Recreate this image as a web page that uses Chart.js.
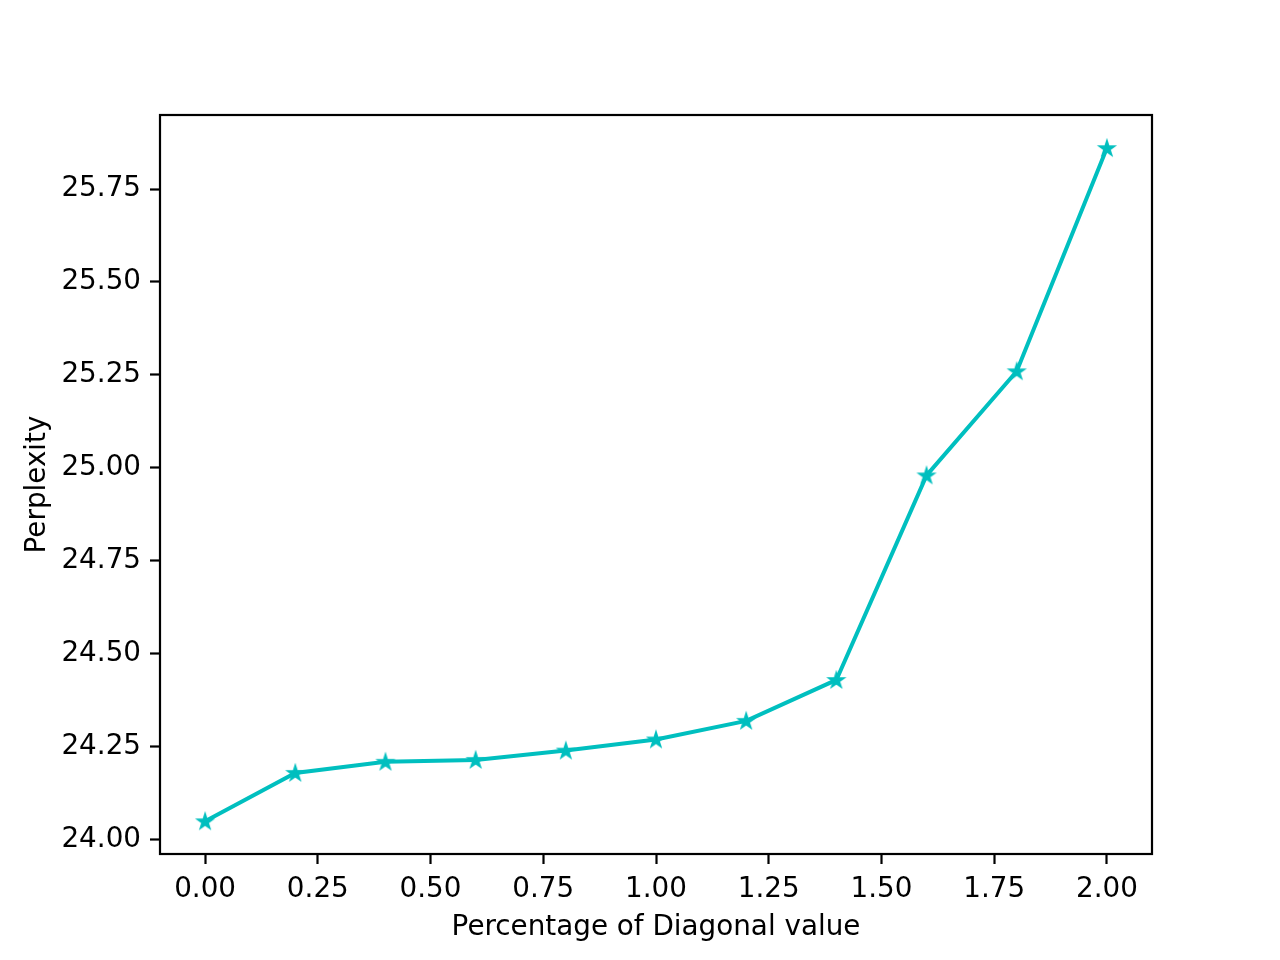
<!DOCTYPE html>
<html>
<head>
<meta charset="utf-8">
<script src="https://cdn.jsdelivr.net/npm/chart.js@4/dist/chart.umd.min.js"></script>
<style>
  body { margin: 0; background: #fff; }
  canvas { display: block; }
</style>
</head>
<body>
<canvas id="myChart" width="1280" height="960"></canvas>
<script>
// data
const diagPct = [0, 0.2, 0.4, 0.6, 0.8, 1.0, 1.2, 1.4, 1.6, 1.8, 2.0];
const perplexity = [24.05, 24.18, 24.21, 24.215, 24.24, 24.27, 24.32, 24.43, 24.98, 25.26, 25.86];
const xTicks = [0, 0.25, 0.5, 0.75, 1.0, 1.25, 1.5, 1.75, 2.0];
const yTicks = [24.0, 24.25, 24.5, 24.75, 25.0, 25.25, 25.5, 25.75];

const lineColor = "#00bfbf";

// filled star marker like matplotlib '*'
function makeStar(color) {
    const c = document.createElement("canvas");
    c.width = 24; c.height = 24;
    const g = c.getContext("2d");
    const R = 7.4, r = R * 0.381966;
    g.beginPath();
    for (let i = 0; i < 10; i++) {
        const rad = i % 2 === 0 ? R : r;
        const a = -Math.PI / 2 + i * Math.PI / 5;
        const px = 12 + rad * Math.cos(a), py = 12.5 + rad * Math.sin(a);
        if (i === 0) g.moveTo(px, py); else g.lineTo(px, py);
    }
    g.closePath();
    g.fillStyle = color;
    g.fill();
    g.lineWidth = 2;
    g.lineJoin = "miter";
    g.strokeStyle = color;
    g.stroke();
    return c;
}

const frame = {
    id: "frame",
    afterDraw(chart) {
        const a = chart.chartArea, ctx = chart.ctx;
        ctx.save();
        ctx.strokeStyle = "#000";
        ctx.lineWidth = 2.2;
        ctx.strokeRect(a.left, a.top, a.right - a.left, a.bottom - a.top);
        ctx.restore();
    }
};

Chart.defaults.font.family = "'DejaVu Sans', sans-serif";
Chart.defaults.color = "#000";

const star = makeStar(lineColor);

new Chart(document.getElementById("myChart"), {
    type: "line",
    data: {
        datasets: [{
            data: diagPct.map((x, i) => ({ x: x, y: perplexity[i] })),
            borderColor: lineColor,
            backgroundColor: lineColor,
            borderWidth: 4,
            pointStyle: star,
            pointRadius: 8,
            fill: false,
            tension: 0
        }]
    },
    options: {
        responsive: false,
        animation: false,
        layout: { padding: { top: 115, right: 128, left: 0, bottom: 0 } },
        plugins: { legend: { display: false }, tooltip: { enabled: false } },
        scales: {
            x: {
                type: "linear",
                min: -0.1,
                max: 2.1,
                afterBuildTicks: s => { s.ticks = xTicks.map(v => ({ value: v })); },
                afterFit: s => { s.height = 106; },
                border: { display: false },
                grid: { drawOnChartArea: false, tickLength: 10, tickWidth: 2.2, tickColor: "#000" },
                ticks: {
                    font: { size: 27.8 },
                    padding: 9,
                    maxRotation: 0,
                    callback: v => v.toFixed(2)
                },
                title: {
                    display: true,
                    text: "Percentage of Diagonal value",
                    font: { size: 27.8 },
                    padding: { top: 0, bottom: 16 }
                }
            },
            y: {
                type: "linear",
                min: 23.962,
                max: 25.949,
                afterBuildTicks: s => { s.ticks = yTicks.map(v => ({ value: v })); },
                afterFit: s => { s.width = 160; },
                border: { display: false },
                grid: { drawOnChartArea: false, tickLength: 10, tickWidth: 2.2, tickColor: "#000" },
                ticks: {
                    font: { size: 27.8 },
                    padding: 9,
                    callback: v => v.toFixed(2)
                },
                title: {
                    display: true,
                    text: "Perplexity",
                    font: { size: 27.8 },
                    padding: { top: 21, bottom: 0 }
                }
            }
        }
    },
    plugins: [frame]
});
</script>
</body>
</html>
